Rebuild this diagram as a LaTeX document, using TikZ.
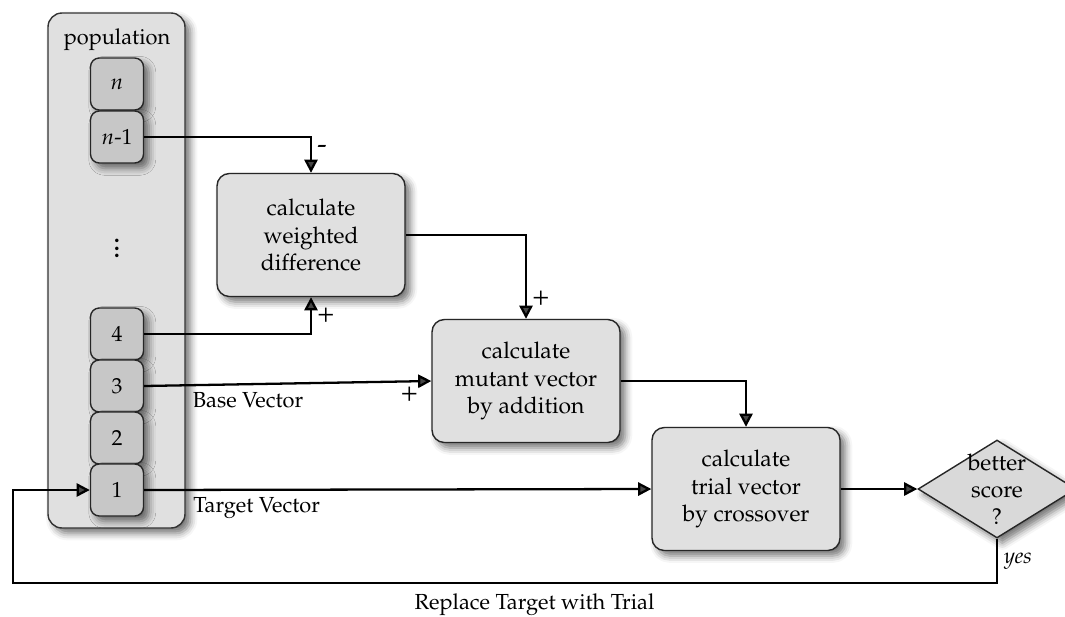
\documentclass[tikz,border=0pt]{standalone}
\usepackage[T1]{fontenc}
\usepackage{mathpazo}
\usetikzlibrary{arrows.meta,shapes.geometric,shadows.blur,positioning}

\tikzset{
  softshadow/.style={blur shadow={shadow xshift=3pt, shadow yshift=-3pt,
      shadow blur radius=4pt, shadow opacity=55}},
  popbox/.style={draw=black!80, line width=0.8pt, fill=black!12,
      rounded corners=8pt, softshadow},
  member/.style={draw=black!85, line width=0.8pt, fill=black!22,
      rounded corners=5pt, minimum width=1.06cm, minimum height=1.04cm,
      inner sep=0pt, softshadow},
  process/.style={draw=black!85, line width=0.8pt, fill=black!12,
      rounded corners=7pt, minimum width=3.76cm, minimum height=2.46cm,
      align=center, font=\fontsize{13}{15.4}\selectfont, softshadow},
  decision/.style={diamond, draw=black!85, line width=0.8pt, fill=black!15,
      minimum width=3.16cm, minimum height=1.96cm, inner sep=0pt, softshadow},
  flow/.style={line width=1.3pt, -{Triangle[length=7.5pt,width=7.5pt]}},
  sign/.style={font=\fontsize{16}{17}\selectfont, inner sep=3pt}
}

\begin{document}
\begin{tikzpicture}[x=0.02cm, y=-0.02cm, font=\fontsize{12.4}{15.4}\selectfont]
  \useasboundingbox (0,0) rectangle (1065,616);

  %--- population column ---
  \draw[popbox] (48,13) rectangle (185,528);
  \node (poptitle) at (117,40) {population};
  \node[member] (mn)  at (117,84)  {$n$};
  \node[member] (mn1) at (117,137) {$n$-1};
  \node[font=\LARGE] (dots) at (117,243) {$\vdots$};
  \node[member] (m4)  at (117,334) {4};
  \node[member] (m3)  at (117,386) {3};
  \node[member] (m2)  at (117,438) {2};
  \node[member] (m1)  at (117,490) {1};

  %--- processing steps ---
  \node[process] (diff)   at (311,235) {calculate\\weighted\\difference};
  \node[process] (mutant) at (526,381) {calculate\\mutant vector\\by addition};
  \node[process] (trial)  at (746,489) {calculate\\trial vector\\by crossover};

  %--- selection ---
  \node[decision] (test) at (997,489) {};
  \node[align=center, font=\fontsize{13}{15.4}\selectfont] (testtxt)
    at (997,489) {better\\score\\?};

  %--- difference vector ---
  \draw[flow] (mn1.east) -| (diff.north) node[sign, pos=0.68, right] {-};
  \draw[flow] (m4.east) -| (diff.south) node[sign, pos=0.76, right] {+};

  %--- mutation ---
  \draw[flow] (diff.east) -| (mutant.north) node[sign, pos=0.88, right] {+};
  \draw[flow] (m3.east) -- (mutant.west)
    node[sign, pos=1, below left, xshift=-4pt] {+}
    node[pos=0.145, below right] {Base Vector};

  %--- crossover ---
  \draw[flow] (mutant.east) -| (trial.north);
  \draw[flow] (m1.east) -- (trial.west)
    node[pos=0.083, below right] {Target Vector};
  \draw[flow] (trial.east) -- (test.west);

  %--- replacement loop ---
  \coordinate (loopL) at (13,583);
  \coordinate (loopR) at (test.south |- loopL);
  \draw[flow] (test.south) -- (loopR)
      node[midway, right, font=\itshape\fontsize{12.4}{15}\selectfont] {yes}
    -- (loopL) node[pos=0.47, below, yshift=-2pt] {Replace Target with Trial}
    |- (m1.west);
\end{tikzpicture}
\end{document}
